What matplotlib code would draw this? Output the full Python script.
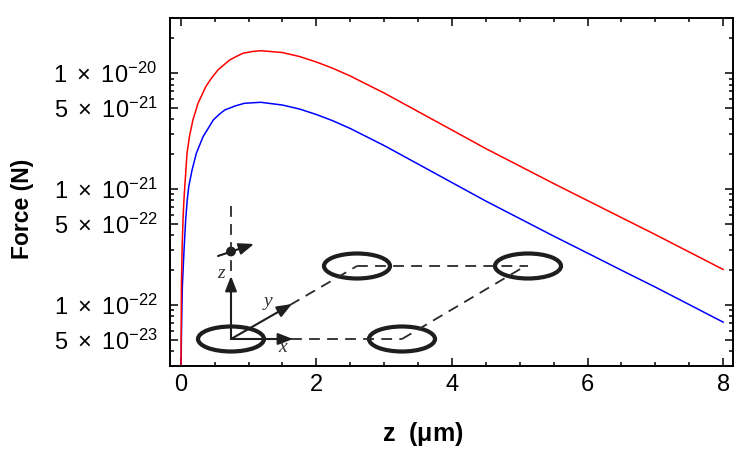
import numpy as np
import matplotlib
matplotlib.use("Agg")
from matplotlib import pyplot as plt
from matplotlib import ticker
from matplotlib.patches import Ellipse, Circle

# values (z in micrometres, force in newtons)
z_red = [0.003, 0.01, 0.02, 0.034, 0.045, 0.06, 0.093, 0.13, 0.18, 0.255, 0.37,
         0.45, 0.55, 0.72, 0.82, 0.92, 1.05, 1.18, 1.5, 1.75, 2.0, 2.25, 2.5,
         2.75, 3.0, 3.5, 4.0, 4.5, 5.0, 5.5, 6.0, 6.5, 7.0, 7.5, 8.0]
f_red = [2.0e-23, 1.44e-22, 2.98e-22, 5.42e-22, 7.59e-22, 1.05e-21, 2.04e-21,
         2.87e-21, 3.95e-21, 5.51e-21, 7.66e-21, 9.02e-21, 1.07e-20, 1.30e-20,
         1.396e-20, 1.49e-20, 1.539e-20, 1.567e-20, 1.51e-20, 1.396e-20,
         1.252e-20, 1.10e-20, 9.48e-21, 8.00e-21, 6.76e-21, 4.68e-21, 3.24e-21,
         2.24e-21, 1.584e-21, 1.119e-21, 7.98e-22, 5.69e-22, 4.06e-22, 2.87e-22,
         2.03e-22]

z_blue = [0.004, 0.01, 0.024, 0.049, 0.073, 0.095, 0.118, 0.167, 0.23, 0.33,
          0.4, 0.48, 0.565, 0.65, 0.8, 0.94, 1.18, 1.5, 1.75, 2.0, 2.25, 2.5,
          2.75, 3.0, 3.5, 4.0, 4.5, 5.0, 5.5, 6.0, 6.5, 7.0, 7.5, 8.0]
f_blue = [2.0e-23, 5.32e-23, 1.44e-22, 2.98e-22, 5.42e-22, 7.90e-22, 1.05e-21,
          1.46e-21, 2.04e-21, 2.84e-21, 3.31e-21, 3.95e-21, 4.41e-21, 4.82e-21,
          5.22e-21, 5.51e-21, 5.62e-21, 5.32e-21, 4.92e-21, 4.41e-21, 3.88e-21,
          3.34e-21, 2.82e-21, 2.38e-21, 1.649e-21, 1.141e-21, 7.90e-22, 5.58e-22,
          3.94e-22, 2.81e-22, 2.00e-22, 1.43e-22, 1.01e-22, 7.13e-23]

y_ticks = [5e-23, 1e-22, 5e-22, 1e-21, 5e-21, 1e-20]
y_labels = [r'$5\ \times\ 10^{-23}$', r'$1\ \times\ 10^{-22}$',
            r'$5\ \times\ 10^{-22}$', r'$1\ \times\ 10^{-21}$',
            r'$5\ \times\ 10^{-21}$', r'$1\ \times\ 10^{-20}$']
x_ticks = [0, 2, 4, 6, 8]

plt.rcParams['font.family'] = ['Liberation Sans', 'DejaVu Sans']
plt.rcParams['mathtext.fontset'] = 'custom'
plt.rcParams['mathtext.rm'] = 'Liberation Sans'
plt.rcParams['mathtext.it'] = 'Liberation Sans:italic'
plt.rcParams['mathtext.bf'] = 'Liberation Sans:bold'

fig = plt.figure(figsize=(7.5, 4.54), dpi=100)
ax = fig.add_axes([0.2263, 0.1945, 0.7514, 0.7659])

ax.plot(z_blue, f_blue, color='#0000ff', lw=1.1)
ax.plot(z_red, f_red, color='#ff0000', lw=1.1)

ax.set_yscale('log')
ax.set_xlim(-0.162, 8.15)
ax.set_ylim(3e-23, 3e-20)

ax.yaxis.set_major_locator(ticker.FixedLocator(y_ticks))
ax.yaxis.set_major_formatter(ticker.FixedFormatter(y_labels))
ax.yaxis.set_minor_locator(ticker.LogLocator(subs=[2, 3, 4, 6, 7, 8, 9], numticks=20))
ax.yaxis.set_minor_formatter(ticker.NullFormatter())
ax.xaxis.set_major_locator(ticker.FixedLocator(x_ticks))
ax.xaxis.set_minor_locator(ticker.MultipleLocator(0.5))

ax.tick_params(which='both', direction='in', top=True, right=True,
               width=1.1, labelsize=17)
ax.tick_params(which='major', length=5.5)
ax.tick_params(which='minor', length=3)
ax.tick_params(axis='y', pad=9)
ax.tick_params(axis='x', pad=6)
for s in ax.spines.values():
    s.set_linewidth(1.4)

ax.set_xlabel(r'z  ($\mathbf{\mu}$m)', fontsize=18, fontweight='bold')
ax.set_ylabel('Force (N)', fontsize=16.5, fontweight='bold')
ax.xaxis.set_label_coords(0.449, -0.155)
ax.yaxis.set_label_coords(-0.24, 0.45)

# schematic inset drawn in figure pixel coordinates
ov = fig.add_axes([0, 0, 1, 1], zorder=5)
ov.set_xlim(0, 750)
ov.set_ylim(454, 0)
ov.axis('off')

ring_centres = [(231, 339), (402, 339), (357, 266), (528, 266)]
dash_lines = [((291, 339), (402, 339)), ((402, 339), (522, 268)),
              ((357, 266), (528, 266)), ((290, 305), (357, 266)),
              ((231, 206), (231, 272))]
ink = '#1e1e1e'

for a, b in dash_lines:
    ov.plot([a[0], b[0]], [a[1], b[1]], color='#2a2a2a', lw=1.3,
            dashes=(6, 4))
for cx, cy in ring_centres:
    ov.add_patch(Ellipse((cx, cy), 66, 25, fill=False, ec=ink, lw=3.0))

arrow_kw = dict(arrowstyle='-|>,head_length=0.9,head_width=0.35', color=ink,
                lw=1.5, shrinkA=0, shrinkB=0)
ov.annotate('', xy=(293, 339), xytext=(231, 339), arrowprops=arrow_kw)
ov.annotate('', xy=(292, 304), xytext=(231, 339), arrowprops=arrow_kw)
ov.annotate('', xy=(231, 276), xytext=(231, 339), arrowprops=arrow_kw)
ov.annotate('', xy=(254, 244), xytext=(218, 256), arrowprops=arrow_kw)
ov.add_patch(Circle((231, 251.5), 4.2, color=ink))

serif = dict(family='Liberation Serif', style='italic', fontsize=14, color='#333333')
ov.text(221, 273, 'z', ha='center', va='center', **serif)
ov.text(268, 301, 'y', ha='center', va='center', **serif)
ov.text(283, 348, 'x', ha='center', va='center', **serif)

fig.savefig('out.png', dpi=100)
